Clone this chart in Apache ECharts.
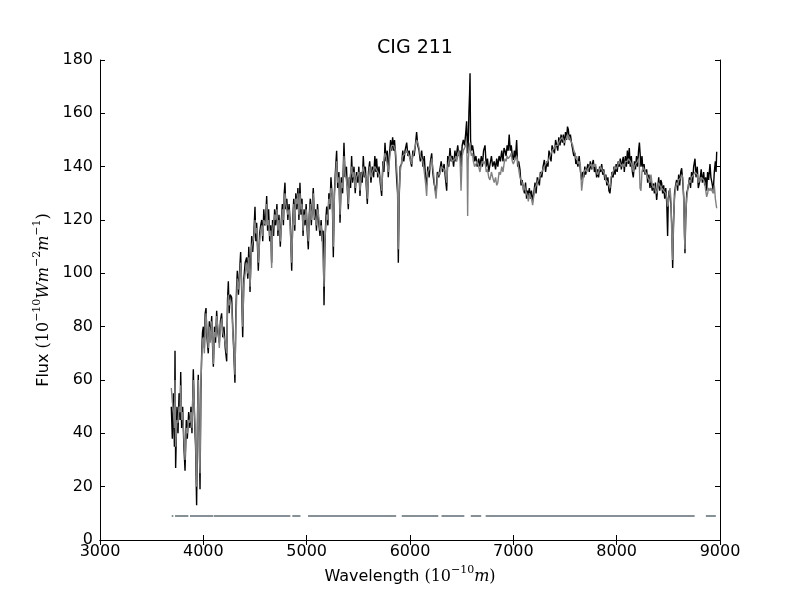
<!DOCTYPE html>
<html>
<head>
<meta charset="utf-8">
<script src="https://cdn.jsdelivr.net/npm/echarts@6/dist/echarts.min.js"></script>
<style>html,body{margin:0;padding:0;background:#fff}#c{width:800px;height:600px}</style>
</head>
<body>
<div id="c"></div>
<script>
// Wavelength grid (Angstrom)
const wavelength = [3690,3700,3710,3720,3726,3732,3745,3755,3765,3775,3781,3790,3800,3812,3823,3835,3845,3858,3870,3880,3890,3903,3915,3925,3935,3945,3951,3960,3968,3976,3984,3992,4000,4010,4018,4026,4035,4048,4058,4068,4081,4090,4097,4108,4118,4129,4140,4155,4165,4177,4188,4200,4212,4226,4234,4242,4250,4260,4274,4285,4295,4306,4315,4322,4329,4340,4350,4361,4370,4381,4392,4405,4419,4430,4440,4452,4460,4468,4478,4490,4500,4508,4516,4524,4532,4545,4555,4565,4575,4585,4595,4605,4613,4622,4632,4642,4652,4661,4670,4680,4690,4700,4712,4722,4732,4745,4755,4765,4775,4783,4790,4798,4808,4818,4830,4842,4855,4865,4875,4885,4895,4905,4915,4925,4935,4945,4955,4965,4975,4985,4995,5005,5016,5025,5035,5045,5055,5064,5075,5085,5095,5105,5115,5129,5140,5150,5160,5168,5176,5185,5194,5205,5215,5225,5235,5248,5258,5268,5278,5290,5300,5312,5323,5335,5348,5361,5372,5385,5395,5403,5412,5425,5435,5445,5458,5470,5482,5495,5505,5516,5527,5538,5548,5558,5568,5578,5587,5598,5610,5622,5635,5648,5660,5670,5677,5688,5700,5712,5726,5738,5748,5758,5768,5780,5790,5800,5812,5822,5832,5842,5850,5860,5870,5880,5887,5895,5905,5919,5930,5940,5952,5968,5980,5992,6005,6016,6028,6040,6052,6064,6075,6088,6100,6113,6125,6138,6150,6161,6172,6185,6198,6210,6220,6232,6242,6252,6265,6278,6290,6302,6315,6330,6342,6355,6365,6375,6387,6398,6410,6422,6435,6445,6452,6462,6472,6484,6494,6505,6516,6528,6538,6548,6553,6558,6563,6570,6577,6581,6586,6595,6605,6613,6625,6638,6650,6665,6677,6690,6700,6712,6726,6738,6750,6762,6774,6788,6800,6815,6828,6839,6850,6862,6875,6888,6900,6910,6919,6930,6940,6950,6960,6970,6980,6990,7000,7010,7020,7032,7042,7052,7064,7075,7085,7097,7108,7118,7128,7138,7145,7155,7165,7175,7187,7198,7210,7220,7232,7242,7252,7262,7275,7288,7300,7312,7325,7335,7345,7355,7365,7375,7387,7398,7409,7419,7430,7440,7452,7462,7474,7484,7494,7505,7515,7524,7532,7542,7552,7564,7575,7585,7597,7605,7613,7625,7637,7650,7661,7671,7682,7692,7700,7710,7722,7735,7745,7756,7765,7774,7785,7796,7806,7815,7825,7835,7845,7855,7865,7875,7885,7895,7905,7915,7925,7935,7945,7955,7965,7975,7985,7995,8005,8015,8025,8035,8045,8055,8064,8074,8084,8094,8104,8114,8122,8132,8142,8152,8161,8172,8182,8192,8202,8212,8220,8226,8235,8245,8255,8265,8275,8290,8300,8312,8322,8332,8344,8355,8365,8375,8387,8397,8407,8417,8427,8435,8445,8455,8465,8475,8485,8493,8500,8508,8516,8525,8533,8542,8550,8560,8570,8580,8590,8600,8610,8620,8629,8640,8650,8656,8661,8668,8678,8693,8705,8715,8725,8735,8745,8758,8768,8780,8790,8806,8818,8830,8842,8852,8862,8871,8880,8890,8903,8912,8922,8935,8945,8955,8962,8968];

// Observed flux (black)
const observed = [50,38,55,35,71,27,50,40,55,45,63,42,50,35,26,45,38,48,42,50,40,64,45,35,13,50,62,40,19,55,70,78,80,72,85,87,76,70,82,75,84,72,65,80,74,86,78,74,82,85,76,80,72,67,90,97,85,92,91,80,70,59,85,95,101,92,100,108,95,76,98,104,106,98,110,93,105,114,108,116,125,112,119,110,101,115,118,120,112,124,118,122,129,116,124,112,118,104,120,114,124,118,126,114,122,110,120,126,118,130,134,124,128,120,126,118,101,120,128,116,130,124,132,120,134,122,128,114,124,118,126,116,109,122,128,118,126,132,120,124,116,126,120,114,120,112,116,88,110,120,125,118,130,124,136,128,106,130,138,146,132,138,119,136,130,149,136,140,130,124,136,132,144,134,140,130,138,134,140,129,138,134,144,136,140,132,126,138,142,134,140,136,144,138,143,136,140,134,129,142,138,149,142,146,136,144,150,146,151,146,150,144,136,130,104,128,140,141,146,142,146,149,144,146,142,140,146,144,148,153,148,146,142,146,140,144,136,133,140,136,142,145,138,134,132,130,138,136,139,142,138,141,136,131,144,140,147,142,144,140,146,142,145,148,144,146,140,148,150,148,152,157,150,145,148,160,168,175,150,146,148,146,142,144,140,143,140,144,140,146,148,140,143,138,137.5,144,140,142,139,143,140,144,142,146,142,147,146,144,148,146,152,146,148,144,142.5,146,143,150,140,142,139,133,135,132,130,134,128,131,129,132,128,131,127,130,134,130,136,136,133,138,136,140,142.5,138,142,140,146,145.6,142,148,148.7,145,150,150.6,146,151,148,152,149,152,148,153,150,155,154,150,152,148.7,148,144,145,141,142.5,140,144,138,135,138,136,140,137,137.5,141,138,142,139,141,142.5,138,140,136,139,136,140,138,141,137,139,135,137,133,136,131,130,134,138,136,140,137,141,138,142,140,143,139,142,143.7,138,144,140,146,141,147,140,144,138,136,142,139,144,140,146,149,149,140,144,138,141,137,139,134,137,132,135,131,133.7,130,134,127.5,132,136,131,135,134,130,133,128,132,126,114,128,131,131,126,118,102,118,130,133,135,131,137,133,138,139.4,134,128,116,107.5,120,130,132.5,136,132,138,134,140,143,136,140,132,135,139,134,138,133,136,131,138,135,141,136,134,131,138,142,138,145.6];

// Model flux (grey)
const model = [57,52,48,42,60,35,45,44,50,48,58,45,48,38,30,42,40,45,44,48,42,60,48,38,20,48,60,35,25,58,68,75,76,70,80,85,78,72,80,74,82,74,66,78,76,84,80,72,80,83,78,78,74,70,86,92,88,90,88,78,72,62,82,90,98,94,98,104,98,80,96,100,104,100,106,95,102,110,110,114,120,115,117,112,104,112,116,118,114,120,120,118,126,118,120,114,116,102,116,116,122,120,124,116,120,112,118,124,120,128,130,126,126,122,124,116,104,118,126,118,128,126,130,122,130,124,126,116,122,120,124,118,112,120,126,120,124,130,122,122,118,124,122,116,118,114,114,95,112,118,122,120,128,126,132,130,110,128,136,142,134,136,122,134,132,144,138,138,132,126,134,134,140,136,138,132,136,136,138,131,136,136,140,138,138,134,128,136,140,136,138,138,140,140,140,138,138,136,131,140,140,145,144,144,138,142,146,148,148,148,147,146,140,134,109,130,138,142,144,144,145,146,146,144,144,141,144,146,146,150,149,147,144,144,142,138,134,129,138,138,140,143,140,136,131,128,136,138,137,140,140,139,138,134,140,142,144,143,142,142,143,144,142,144,146,143,131,144,146,147,148,149,140,121.5,142,146,148,149,146,144,145,142,140,141,142,140,138,141,142,141,142,138,139,136,135,138,136,134,136,133,134,138,137,140,138,141,143,142,144,143,143,144,145,142,141,142,142,144,142,139,136,135,134,131,133,131,130,129,127,130,130,128,125.6,129,132,132,134,134,136,136,138,138,140,141,141,142,143,144,145,146,146,147,148,148,148,149,150,150,151,150,149,150,151,152,152,151,150,149,148,146,145,143,144,141,142,140,131,131,138,138,139,138,139,140,140,141,139,141,140,141,138,137,138,138,140,139,139,138,137,135,135,134,133,132,136,136,138,138,140,139,140,140,142,141,141,140,141,140,142,142,142,143,143,142,141,140,138,140,141,141,142,143,140,132,131,138,140,139,139,137,136,135,134,137,133,132,133,131,130,130,134,133,133,132,132,131,131,130,128,125,126,130,132,128,115,105,120,128,132,134,133,135,135,136,137,136,126,114,109,122,128,133,135,134,136,136,137,138,138,137,134,134,136,136,135,134,131,128.7,130,132,131,132,131,130,133,128,126,124.4];

// Masked-pixel indicator segments [start, end] at constant flux level
const maskStart = [3694,3726,3871,4103,4861,5013,5920,6305,6588,6732,8863];
const maskEnd   = [3710,3855,4097,4842,4940,5866,6274,6526,6689,8755,8960];
const maskLevel = 9;

const xTicks = [3000,4000,5000,6000,7000,8000,9000];
const yTicks = [0,20,40,60,80,100,120,140,160,180];

const obsData = wavelength.map((w,i)=>[w, observed[i]]);
const modData = wavelength.map((w,i)=>[w, model[i]]);
const maskData = [];
maskStart.forEach((s,i)=>{
  maskData.push([s, maskLevel]);
  maskData.push([maskEnd[i], maskLevel]);
  if (i < maskStart.length-1) maskData.push([(maskEnd[i]+maskStart[i+1])/2, null]);
});

const FONT = 'DejaVu Sans';
const MATH = 'DejaVu Serif';
const richName = {
  n:{fontFamily:FONT, fontSize:16, lineHeight:24, color:'#000'},
  m:{fontFamily:MATH, fontSize:16, lineHeight:24, color:'#000'},
  i:{fontFamily:MATH, fontStyle:'italic', fontSize:16, lineHeight:24, color:'#000'},
  s:{fontFamily:MATH, fontSize:11, lineHeight:11, verticalAlign:'top', color:'#000'}
};
const chart = echarts.init(document.getElementById('c'), null, {renderer:'canvas'});
const axisCommon = {
  axisLine:{show:true, lineStyle:{color:'#000', width:1}},
  axisTick:{show:true, inside:true, length:5, lineStyle:{color:'#000', width:1}},
  splitLine:{show:false}
};
const fmt = v => String(v);
chart.setOption({
  animation:false,
  backgroundColor:'#fff',
  title:{text:'CIG 211', left:410, top:34, textAlign:'center',
    textStyle:{fontFamily:FONT, fontSize:19, fontWeight:'normal', color:'#000'}},
  grid:{left:100, right:80, top:60, bottom:60},
  xAxis:[
    Object.assign({type:'value', min:xTicks[0], max:xTicks[xTicks.length-1], interval:1000, position:'bottom',
      axisLabel:{color:'#000', fontFamily:FONT, fontSize:16, margin:4, formatter:fmt},
      name:'{n|Wavelength }{m|(10}{s|−10}{i|m}{m|)}', nameLocation:'middle', nameGap:25,
      nameTextStyle:{color:'#000', fontFamily:FONT, fontSize:16, rich:richName}
    }, axisCommon),
    Object.assign({type:'value', min:xTicks[0], max:xTicks[xTicks.length-1], interval:1000, position:'top',
      axisLabel:{show:false}}, axisCommon)
  ],
  yAxis:[
    Object.assign({type:'value', min:yTicks[0], max:yTicks[yTicks.length-1], interval:20, position:'left',
      axisLabel:{color:'#000', fontFamily:FONT, fontSize:16, margin:7, formatter:fmt},
      name:'{n|Flux }{m|(10}{s|−10}{i|Wm}{s|−2}{i|m}{s|−1}{m|)}', nameLocation:'middle', nameGap:41, nameRotate:90,
      nameTextStyle:{color:'#000', fontFamily:FONT, fontSize:16, rich:richName}
    }, axisCommon),
    Object.assign({type:'value', min:yTicks[0], max:yTicks[yTicks.length-1], interval:20, position:'right',
      axisLabel:{show:false}}, axisCommon)
  ],
  series:[
    {type:'line', data:obsData, showSymbol:false, symbol:'none', lineStyle:{color:'#000', width:1.4}, z:2},
    {type:'line', data:modData, showSymbol:false, symbol:'none', lineStyle:{color:'#808080', width:1.4}, z:3},
    {type:'line', data:maskData, showSymbol:false, symbol:'none', connectNulls:false,
      lineStyle:{color:'#5f6e75', width:1.4}, z:4}
  ]
});
</script>
</body>
</html>
